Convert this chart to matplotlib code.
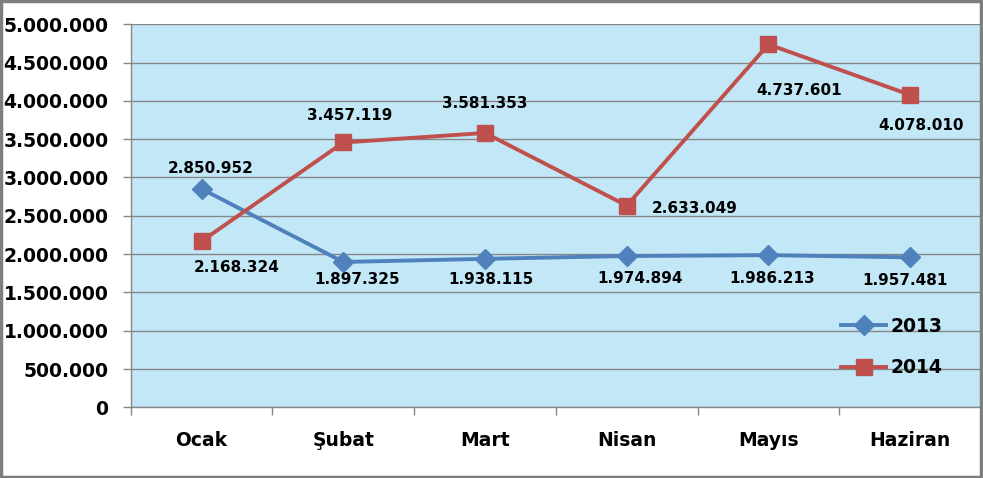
import matplotlib
matplotlib.use("Agg")
import matplotlib.pyplot as plt
from matplotlib.ticker import FuncFormatter, FixedLocator
from matplotlib.patches import Rectangle

months = ["Ocak", "Şubat", "Mart", "Nisan", "Mayıs", "Haziran"]
values_2013 = [2850952, 1897325, 1938115, 1974894, 1986213, 1957481]
values_2014 = [2168324, 3457119, 3581353, 2633049, 4737601, 4078010]
y_ticks = [0, 500000, 1000000, 1500000, 2000000, 2500000, 3000000, 3500000, 4000000, 4500000, 5000000]

# label offsets in pixels (dx, dy) -- dy positive = up
off_2013 = [(9, 20), (14, -18), (6, -21), (13, -22), (4, -23), (-5, -23)]
off_2014 = [(35, -26), (6, 27), (0, 29), (68, -3), (31, -46), (11, -31)]

def fmt(v):
    return f"{int(v):,}".replace(",", ".")

BLUE = "#4F81BD"
RED = "#C0504D"

fig = plt.figure(figsize=(9.83, 4.78), dpi=100)
fig.patch.set_facecolor("white")
ax = fig.add_axes([0.1330, 0.1479, 0.865, 0.8013])
ax.set_facecolor("#C2E8F8")

x = list(range(len(months)))
l1, = ax.plot(x, values_2013, color=BLUE, lw=2.8, marker="D", ms=10, label="2013", zorder=3)
l2, = ax.plot(x, values_2014, color=RED, lw=2.8, marker="s", ms=11, label="2014", zorder=3)

for xi, v, (dx, dy) in zip(x, values_2013, off_2013):
    ax.annotate(fmt(v), (xi, v), xytext=(dx * 0.72, dy * 0.72), textcoords="offset points",
                ha="center", va="center", fontsize=11, fontweight="bold", color="black",
                family="DejaVu Sans", zorder=4)
for xi, v, (dx, dy) in zip(x, values_2014, off_2014):
    ax.annotate(fmt(v), (xi, v), xytext=(dx * 0.72, dy * 0.72), textcoords="offset points",
                ha="center", va="center", fontsize=11, fontweight="bold", color="black",
                family="DejaVu Sans", zorder=4)

ax.set_xlim(-0.5, len(months) - 0.5)
ax.set_ylim(0, 5000000)
ax.set_yticks(y_ticks)
ax.yaxis.set_major_formatter(FuncFormatter(lambda v, p: fmt(v)))
ax.yaxis.grid(True, color="#868686", lw=1.0)
ax.set_axisbelow(True)

ax.set_xticks(x)
ax.set_xticklabels(months)
ax.xaxis.set_minor_locator(FixedLocator([i - 0.5 for i in range(len(months) + 1)]))
ax.tick_params(axis="x", which="major", length=0, pad=17)
ax.tick_params(axis="x", which="minor", length=6, color="#868686", width=1)
ax.tick_params(axis="y", which="major", length=6, color="#868686", width=1, pad=10)

for lab in ax.get_yticklabels() + ax.get_xticklabels():
    lab.set_fontweight("bold")
    lab.set_fontsize(13.5)
    lab.set_family("DejaVu Sans")

for s in ["top", "right"]:
    ax.spines[s].set_visible(False)
for s in ["left", "bottom"]:
    ax.spines[s].set_color("#868686")
    ax.spines[s].set_linewidth(1)

leg = ax.legend(handles=[l1, l2], loc="lower right", bbox_to_anchor=(0.974, 0.034),
                frameon=False, prop={"weight": "bold", "size": 13.5, "family": "DejaVu Sans"},
                handlelength=2.4, handletextpad=0.2, labelspacing=1.2)

fig.add_artist(Rectangle((0.001, 0.002), 0.997, 0.995, transform=fig.transFigure,
                         fill=False, edgecolor="#7F7F7F", lw=2.5))

fig.savefig("out.png", dpi=100, facecolor="white")
